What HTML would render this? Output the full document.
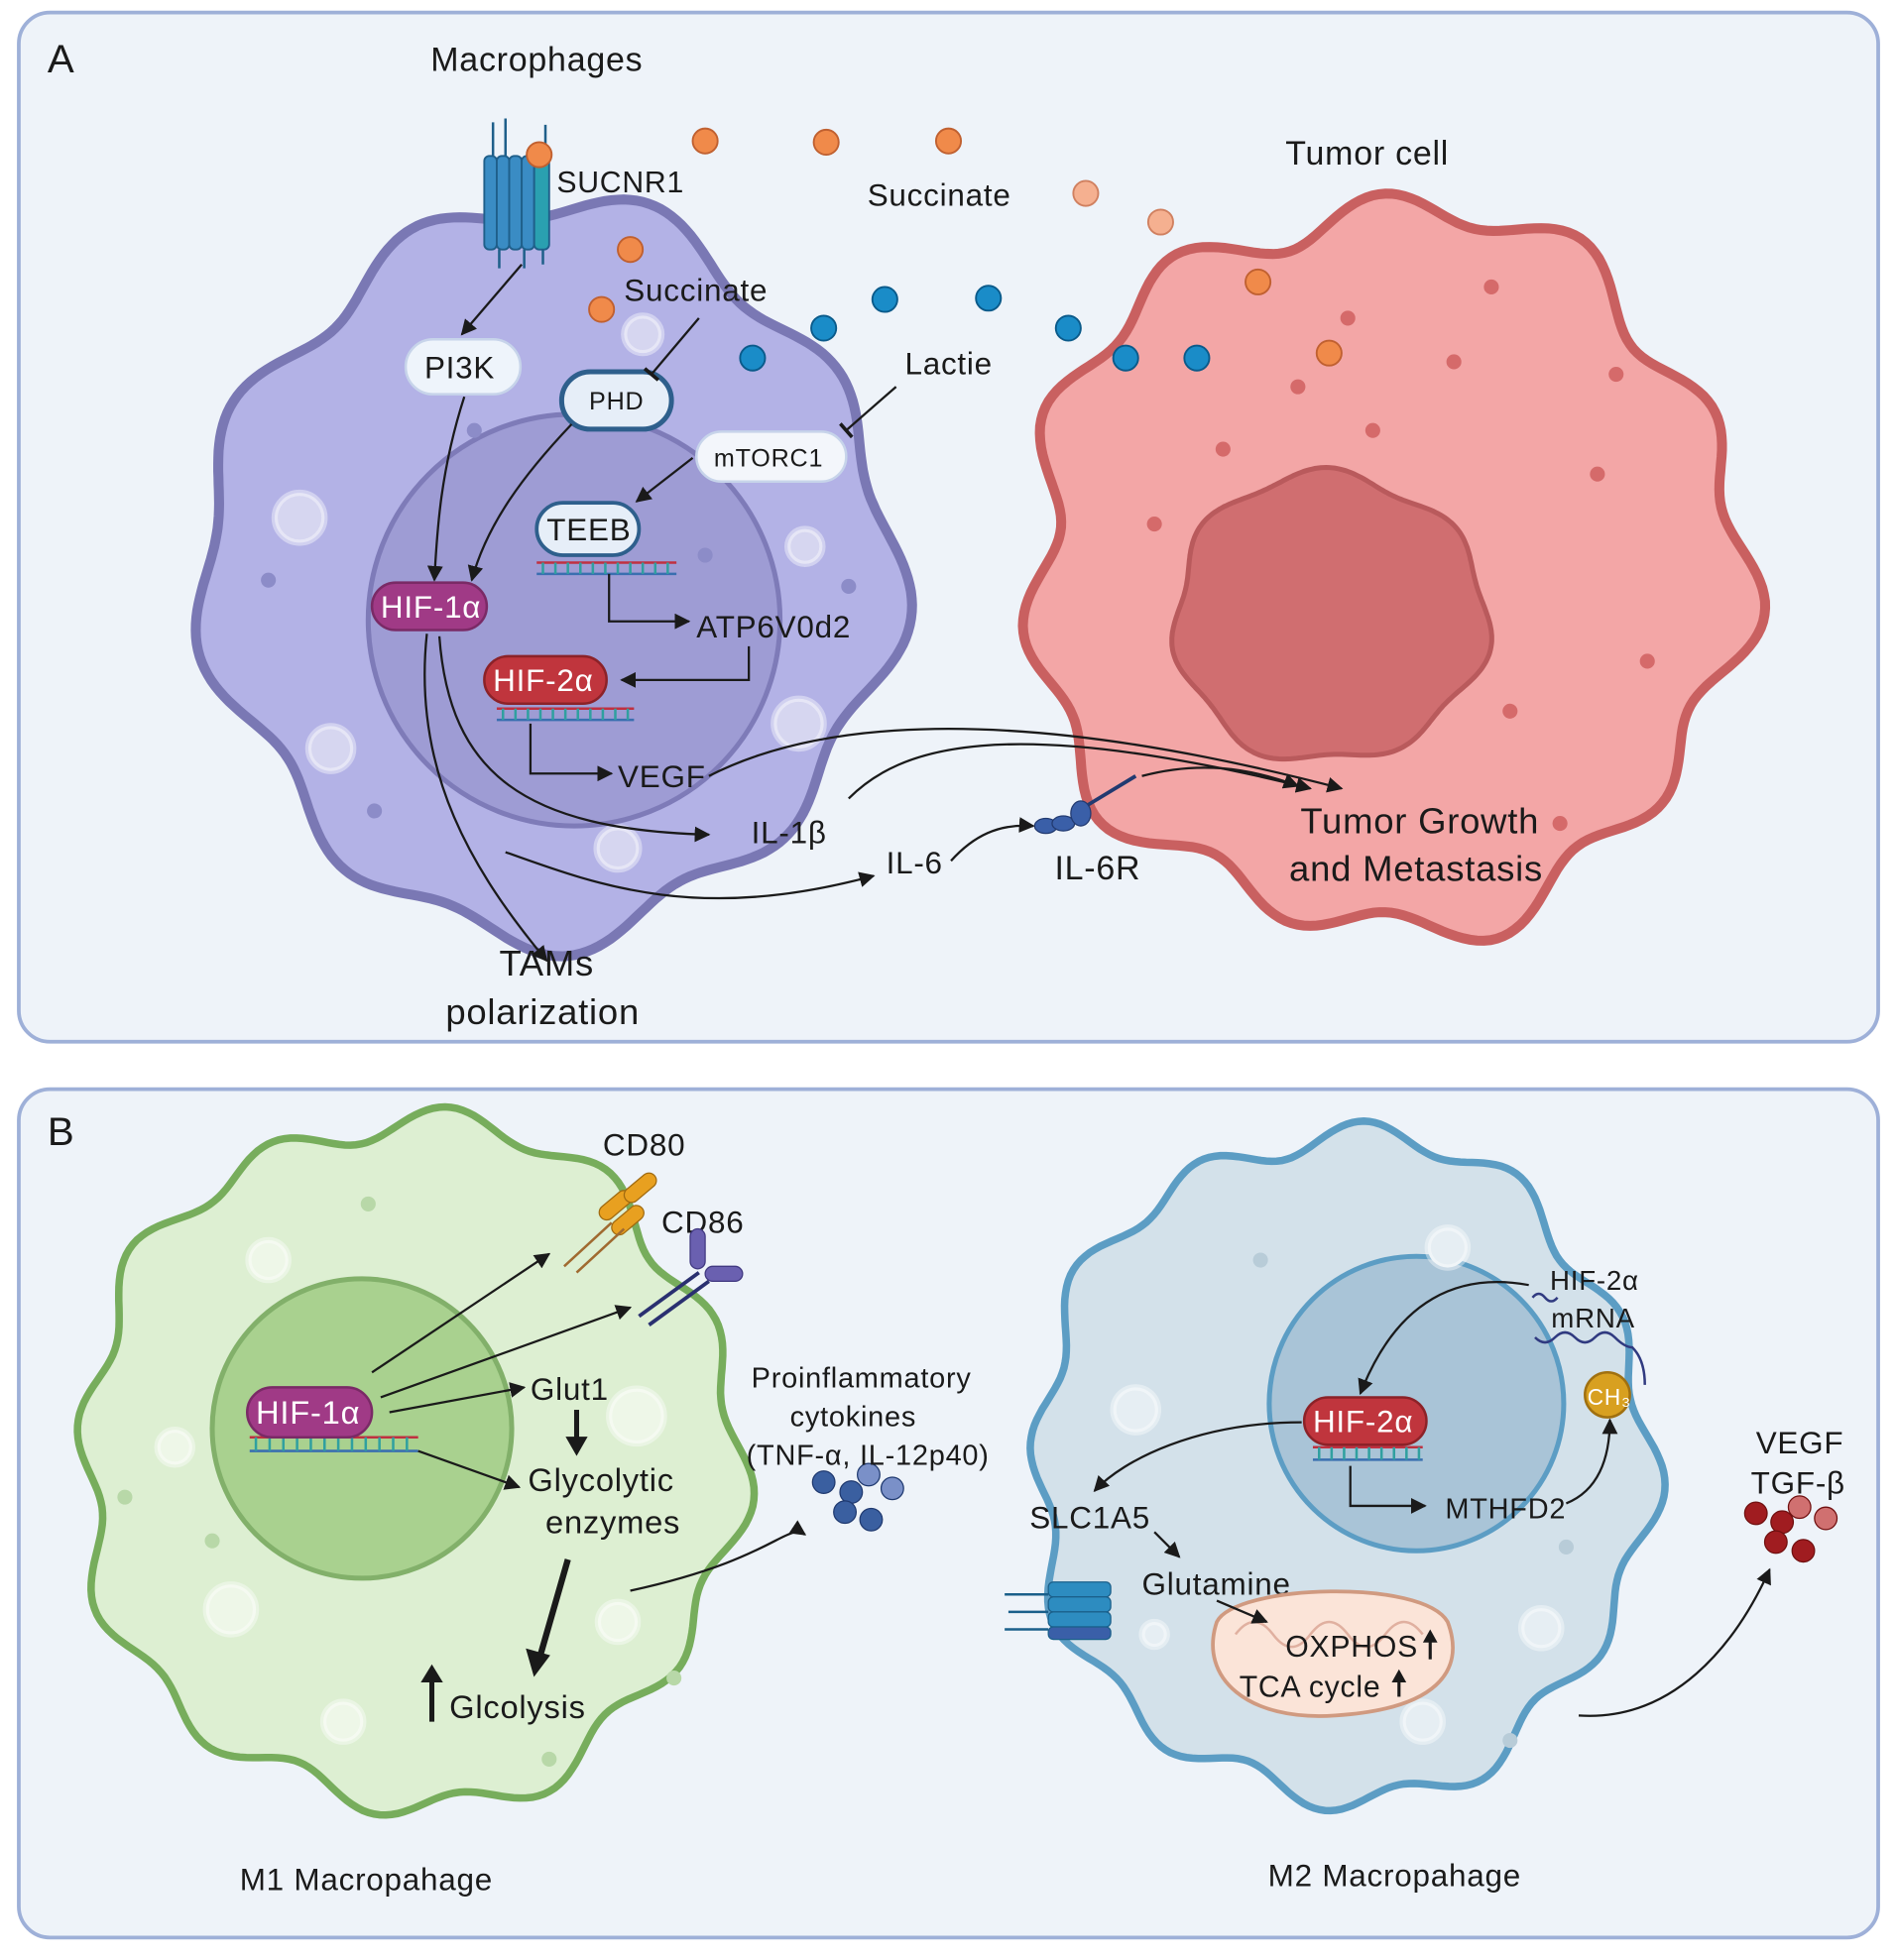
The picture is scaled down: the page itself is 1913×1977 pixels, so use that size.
<!DOCTYPE html>
<html><head><meta charset="utf-8">
<style>
html,body{margin:0;padding:0;background:#fff;}
svg{display:block;}
text{font-family:"Liberation Sans",sans-serif;fill:#1a1a1a;letter-spacing:0.6px;}
</style></head>
<body>
<svg id="s" width="1913" height="1977" viewBox="0 0 1520 1571" xmlns="http://www.w3.org/2000/svg">
<defs>
<marker id="ar" viewBox="0 0 10 10" refX="9" refY="5" markerWidth="7" markerHeight="7" orient="auto-start-reverse"><path d="M0,0 L10,5 L0,10 z" fill="#1a1a1a"/></marker>
<marker id="tb" viewBox="0 0 10 10" refX="5" refY="5" markerWidth="8" markerHeight="8" orient="auto"><path d="M5,0 L5,10" stroke="#1a1a1a" stroke-width="2"/></marker>
</defs>
<rect x="15" y="10" width="1490" height="825" rx="25" fill="#eef3f9" stroke="#9eb0d8" stroke-width="3"/>
<rect x="15" y="873" width="1490" height="680" rx="25" fill="#eef3f9" stroke="#9eb0d8" stroke-width="3"/>
<text x="38" y="58" font-size="32">A</text>
<text x="38" y="918" font-size="32">B</text>
<g id="cells"></g>
<g id="fg">
<text x="345" y="57" font-size="27">Macrophages</text>
<text x="1030" y="132" font-size="27">Tumor cell</text>
<g fill="#3a8cc4" stroke="#1f5f8a" stroke-width="1.5">
<rect x="388" y="125" width="10" height="75" rx="4"/><rect x="398" y="125" width="10" height="75" rx="4"/>
<rect x="408" y="125" width="10" height="75" rx="4"/><rect x="418" y="125" width="10" height="75" rx="4"/>
<rect x="428" y="125" width="12" height="75" rx="4" fill="#2aa0b0"/>
</g>
<path d="M395,125 V98 M405,125 V95 M437,125 V100 M400,200 v15 M420,200 v15 M435,200 v12" stroke="#1f5f8a" stroke-width="2" fill="none"/>
<text x="446" y="154" font-size="24">SUCNR1</text>
<text x="695" y="165" font-size="25">Succinate</text>
<text x="500" y="241" font-size="25">Succinate</text>
<text x="725" y="300" font-size="25">Lactie</text>
<rect x="325" y="272" width="92" height="44" rx="22" fill="#eef4fb" stroke="#c7d4ea" stroke-width="2"/>
<text x="340" y="303" font-size="25">PI3K</text>
<rect x="450" y="298" width="88" height="46" rx="23" fill="#e6eef8" stroke="#2e5f8c" stroke-width="4"/>
<text x="472" y="328" font-size="20">PHD</text>
<rect x="558" y="346" width="120" height="40" rx="20" fill="#f3f6fb" stroke="#c7d4ea" stroke-width="2"/>
<text x="572" y="374" font-size="20">mTORC1</text>
<rect x="430" y="403" width="82" height="42" rx="21" fill="#e6eef8" stroke="#2e5f8c" stroke-width="3"/>
<text x="438" y="433" font-size="25">TEEB</text>
<rect x="298" y="467" width="92" height="38" rx="19" fill="#a03a86" stroke="#7a2a66" stroke-width="2"/>
<text x="305" y="495" font-size="25" style="fill:#fff">HIF-1α</text>
<rect x="388" y="526" width="98" height="38" rx="19" fill="#c0353d" stroke="#8c2228" stroke-width="2"/>
<text x="395" y="554" font-size="25" style="fill:#fff">HIF-2α</text>
<g stroke-width="2">
<path d="M430,451 H542" stroke="#c03040"/><path d="M430,460 H542" stroke="#3a6fb0"/>
<path d="M398,568 H508" stroke="#c03040"/><path d="M398,577 H508" stroke="#3a6fb0"/>
<path d="M200,1152 H335" stroke="#c03040"/><path d="M200,1163 H335" stroke="#3a6fb0"/>
<path d="M1052,1160 H1140" stroke="#c03040"/><path d="M1052,1170 H1140" stroke="#3a6fb0"/>
</g>
<path d="M435,451 V460 M445,451 V460 M455,451 V460 M465,451 V460 M475,451 V460 M485,451 V460 M495,451 V460 M505,451 V460 M515,451 V460 M525,451 V460 M535,451 V460 M403,568 V577 M413,568 V577 M423,568 V577 M433,568 V577 M443,568 V577 M453,568 V577 M463,568 V577 M473,568 V577 M483,568 V577 M493,568 V577 M503,568 V577" stroke="#30a0a0" stroke-width="2"/>
<path d="M205,1152 V1163 M216,1152 V1163 M227,1152 V1163 M238,1152 V1163 M249,1152 V1163 M260,1152 V1163 M271,1152 V1163 M282,1152 V1163 M293,1152 V1163 M304,1152 V1163 M315,1152 V1163 M326,1152 V1163 M1057,1160 V1170 M1067,1160 V1170 M1077,1160 V1170 M1087,1160 V1170 M1097,1160 V1170 M1107,1160 V1170 M1117,1160 V1170 M1127,1160 V1170 M1137,1160 V1170" stroke="#30a0a0" stroke-width="2"/>
<text x="558" y="511" font-size="25">ATP6V0d2</text>
<text x="495" y="631" font-size="25">VEGF</text>
<text x="602" y="676" font-size="25">IL-1β</text>
<text x="710" y="700" font-size="25">IL-6</text>
<text x="845" y="705" font-size="27">IL-6R</text>
<text x="1042" y="668" font-size="29">Tumor Growth</text>
<text x="1033" y="706" font-size="29">and Metastasis</text>
<text x="400" y="782" font-size="29">TAMs</text>
<text x="357" y="821" font-size="29">polarization</text>
<g fill="#3a5fa8" stroke="#223a70" stroke-width="1"><ellipse cx="838" cy="662" rx="9" ry="6"/><ellipse cx="852" cy="660" rx="9" ry="6"/><ellipse cx="866" cy="652" rx="8" ry="10"/></g>
<path d="M872,645 L910,622" stroke="#223a70" stroke-width="3"/>
<g fill="none" stroke="#1a1a1a" stroke-width="1.8">
<path d="M418,212 L370,268" marker-end="url(#ar)"/>
<path d="M560,255 L522,300" marker-end="url(#tb)"/>
<path d="M718,310 L678,345" marker-end="url(#tb)"/>
<path d="M555,367 L510,402" marker-end="url(#ar)"/>
<path d="M372,318 C352,380 350,430 348,465" marker-end="url(#ar)"/>
<path d="M458,340 C420,380 390,420 378,465" marker-end="url(#ar)"/>
<path d="M488,460 V498 H552" marker-end="url(#ar)"/>
<path d="M600,518 V545 H498" marker-end="url(#ar)"/>
<path d="M425,580 V620 H490" marker-end="url(#ar)"/>
<path d="M342,508 C330,620 380,700 438,770" marker-end="url(#ar)"/>
<path d="M352,510 C360,620 420,665 568,669" marker-end="url(#ar)"/>
<path d="M405,683 C480,710 560,740 700,702" marker-end="url(#ar)"/>
<path d="M762,690 C780,670 800,660 828,662" marker-end="url(#ar)"/>
<path d="M568,622 C650,580 800,560 1075,632" marker-end="url(#ar)"/>
<path d="M680,640 C720,600 800,570 1050,632" marker-end="url(#ar)"/>
<path d="M915,622 C960,610 1000,615 1040,630" marker-end="url(#ar)"/>
</g>
<g id="mols"></g>
<text x="483" y="926" font-size="25">CD80</text>
<text x="530" y="988" font-size="25">CD86</text>
<g fill="#e8a020" stroke="#a06a10" stroke-width="1"><rect x="478" y="960" width="30" height="12" rx="6" transform="rotate(-40 493 966)"/><rect x="498" y="946" width="30" height="12" rx="6" transform="rotate(-40 513 952)"/><rect x="488" y="972" width="30" height="12" rx="6" transform="rotate(-40 503 978)"/></g>
<path d="M452,1015 L490,980 M462,1020 L500,985" stroke="#a06a30" stroke-width="2"/>
<g fill="#6a60b0" stroke="#403880" stroke-width="1"><rect x="553" y="985" width="12" height="32" rx="6"/><rect x="565" y="1015" width="30" height="12" rx="6"/></g>
<path d="M512,1055 L560,1020 M520,1062 L568,1027" stroke="#2a3070" stroke-width="3"/>
<rect x="198" y="1112" width="100" height="40" rx="20" fill="#a03a86" stroke="#7a2a66" stroke-width="2"/>
<text x="205" y="1141" font-size="26" style="fill:#fff">HIF-1α</text>
<text x="425" y="1122" font-size="25">Glut1</text>
<text x="423" y="1195" font-size="26">Glycolytic</text>
<text x="437" y="1229" font-size="26">enzymes</text>
<text x="360" y="1377" font-size="26">Glcolysis</text>
<text x="602" y="1112" font-size="23">Proinflammatory</text>
<text x="633" y="1143" font-size="23">cytokines</text>
<text x="598" y="1174" font-size="23">(TNF-α, IL-12p40)</text>
<text x="192" y="1515" font-size="25">M1 Macropahage</text>
<text x="1016" y="1512" font-size="25">M2 Macropahage</text>
<rect x="1045" y="1120" width="98" height="38" rx="19" fill="#c0353d" stroke="#8c2228" stroke-width="2"/>
<text x="1052" y="1148" font-size="25" style="fill:#fff">HIF-2α</text>
<text x="1242" y="1034" font-size="22">HIF-2α</text>
<text x="1243" y="1064" font-size="22">mRNA</text>
<path d="M1228,1040 q5,-6 10,0 t10,0 M1230,1072 q8,8 16,0 t16,0 t16,0 t16,0 t14,8 q10,10 10,30" stroke="#303a80" stroke-width="2" fill="none"/>
<circle cx="1288" cy="1118" r="18" fill="#d8a020" stroke="#a07010" stroke-width="2"/>
<text x="1272" y="1126" font-size="18" style="fill:#fff">CH₃</text>
<text x="1158" y="1217" font-size="23">MTHFD2</text>
<text x="825" y="1225" font-size="25">SLC1A5</text>
<text x="915" y="1278" font-size="25">Glutamine</text>
<text x="1407" y="1165" font-size="25">VEGF</text>
<text x="1403" y="1197" font-size="25">TGF-β</text>
<path d="M975,1300 C990,1270 1140,1265 1160,1300 C1175,1340 1150,1370 1070,1375 C1000,1380 960,1345 975,1300 Z" fill="#fbe4d8" stroke="#d09a80" stroke-width="3"/>
<path d="M990,1310 q15,-20 30,0 q15,20 30,0 q15,-20 30,0 q15,20 30,0 q15,-20 30,0" stroke="#e0b0a0" stroke-width="2" fill="none"/>
<text x="1030" y="1328" font-size="24">OXPHOS</text>
<text x="993" y="1360" font-size="24">TCA cycle</text>
<g fill="#2d8cc0" stroke="#1a5f8a" stroke-width="1"><rect x="840" y="1268" width="50" height="12" rx="4"/><rect x="840" y="1280" width="50" height="12" rx="4"/><rect x="840" y="1292" width="50" height="12" rx="4"/><rect x="840" y="1304" width="50" height="10" rx="4" fill="#3a5fa8"/></g>
<path d="M805,1278 H840 M808,1292 H840 M805,1306 H840" stroke="#1a5f8a" stroke-width="2"/>
<g fill="none" stroke="#1a1a1a" stroke-width="1.8">
<path d="M298,1100 L440,1005" marker-end="url(#ar)"/>
<path d="M305,1120 L505,1048" marker-end="url(#ar)"/>
<path d="M312,1132 L420,1112" marker-end="url(#ar)"/>
<path d="M335,1163 L416,1192" marker-end="url(#ar)"/>
<path d="M505,1275 C620,1250 630,1220 645,1230" marker-end="url(#ar)"/>
<path d="M1225,1030 C1170,1020 1120,1040 1090,1117" marker-end="url(#ar)"/>
<path d="M1043,1140 C960,1140 900,1170 877,1195" marker-end="url(#ar)"/>
<path d="M1082,1175 V1207 H1142" marker-end="url(#ar)"/>
<path d="M1255,1205 C1280,1195 1290,1170 1290,1138" marker-end="url(#ar)"/>
<path d="M925,1228 L945,1248" marker-end="url(#ar)"/>
<path d="M975,1283 L1015,1300" marker-end="url(#ar)"/>
<path d="M1265,1375 C1340,1380 1390,1320 1418,1258" marker-end="url(#ar)"/>
</g>
<g stroke="#1a1a1a" fill="#1a1a1a">
<path d="M462,1130 L462,1155" stroke-width="4"/><path d="M454,1152 L470,1152 L462,1166 Z"/>
<path d="M455,1250 L432,1330" stroke-width="5"/><path d="M422,1322 L440,1327 L428,1343 Z"/>
<path d="M346,1380 V1345" stroke-width="4"/><path d="M338,1348 L354,1348 L346,1335 Z"/>
<path d="M1146,1330 V1313" stroke-width="2.5"/><path d="M1141,1316 L1151,1316 L1146,1307 Z"/>
<path d="M1121,1360 V1345" stroke-width="2.5"/><path d="M1116,1348 L1126,1348 L1121,1339 Z"/>
</g>
</g>
<script>
var NS="http://www.w3.org/2000/svg";
function blob(cx,cy,rx,ry,amp,k,ph,amp2,k2){var d="";for(var i=0;i<=360;i++){var t=i*Math.PI/180;var r=1+amp*Math.sin(k*t+ph)+amp2*Math.sin(k2*t+1.3);var x=cx+rx*r*Math.cos(t),y=cy+ry*r*Math.sin(t);d+=(i?"L":"M")+x.toFixed(1)+","+y.toFixed(1);}return d+"Z";}
function el(g,tag,a){var e=document.createElementNS(NS,tag);for(var k in a)e.setAttribute(k,a[k]);g.appendChild(e);return e;}
var c=document.getElementById("cells");
el(c,"path",{d:blob(440,458,272,288,0.045,9,0.5,0.03,4),fill:"#b3b2e6",stroke:"#7a78b4","stroke-width":8});
el(c,"circle",{cx:460,cy:497,r:165,fill:"#9e9cd4",stroke:"#7e7bb8","stroke-width":4});
el(c,"path",{d:blob(1110,455,284,288,0.05,11,0.2,0.03,5),fill:"#f3a6a6",stroke:"#c96060","stroke-width":8});
el(c,"path",{d:blob(1065,495,125,115,0.04,7,0,0.02,3),fill:"#d06e70",stroke:"#b95a5c","stroke-width":4});
el(c,"path",{d:blob(328,1172,262,274,0.04,12,0.3,0.02,5),fill:"#ddefd2",stroke:"#77ad5c","stroke-width":6});
el(c,"circle",{cx:290,cy:1145,r:120,fill:"#a9d18f",stroke:"#82b06a","stroke-width":4});
el(c,"path",{d:blob(1075,1175,245,266,0.04,12,0.8,0.02,5),fill:"#d3e1ea",stroke:"#5c9dc4","stroke-width":6});
el(c,"circle",{cx:1135,cy:1125,r:118,fill:"#a9c4d7",stroke:"#5c9dc4","stroke-width":4});
var ves=[[240,415,20,"#d6d6f0"],[265,600,18,"#d6d6f0"],[640,580,20,"#d6d6f0"],[495,680,17,"#d6d6f0"],[515,268,15,"#d6d6f0"],[645,438,14,"#d6d6f0"],[215,1010,16,"#eef7e8"],[185,1290,20,"#eef7e8"],[275,1380,16,"#eef7e8"],[495,1300,16,"#eef7e8"],[510,1135,22,"#eef7e8"],[140,1160,14,"#eef7e8"],[910,1130,18,"#e6eef3"],[1160,1000,16,"#e6eef3"],[1235,1305,16,"#e6eef3"],[1140,1380,16,"#e6eef3"],[925,1310,10,"#e6eef3"]];
ves.forEach(function(v){el(c,"circle",{cx:v[0],cy:v[1],r:v[2],fill:v[3],stroke:"rgba(255,255,255,0.4)","stroke-width":5});});
var dots=[[215,465,"#8c8cc8"],[380,345,"#8c8cc8"],[565,445,"#8c8cc8"],[300,650,"#8c8cc8"],[680,470,"#8c8cc8"],[1100,345,"#d56a6a"],[1165,290,"#d56a6a"],[980,360,"#d56a6a"],[1280,380,"#d56a6a"],[1320,530,"#d56a6a"],[1210,570,"#d56a6a"],[1040,310,"#d56a6a"],[925,420,"#d56a6a"],[1250,660,"#d56a6a"],[1295,300,"#d56a6a"],[1080,255,"#d56a6a"],[1195,230,"#d56a6a"],[295,965,"#b8d8a8"],[170,1235,"#b8d8a8"],[540,1345,"#b8d8a8"],[440,1410,"#b8d8a8"],[100,1200,"#b8d8a8"],[1010,1010,"#b8ccd8"],[1210,1395,"#b8ccd8"],[1255,1240,"#b8ccd8"]];
dots.forEach(function(v){el(c,"circle",{cx:v[0],cy:v[1],r:6,fill:v[2]});});
var m=document.getElementById("mols");
[[432,124],[565,113],[662,114],[760,113],[505,200],[482,248],[1008,226],[1065,283]].forEach(function(p){el(m,"circle",{cx:p[0],cy:p[1],r:10,fill:"#f08a4a",stroke:"#c06030","stroke-width":1.5});});
[[870,155],[930,178]].forEach(function(p){el(m,"circle",{cx:p[0],cy:p[1],r:10,fill:"#f5b090",stroke:"#d08060","stroke-width":1.5});});
[[603,287],[660,263],[709,240],[792,239],[856,263],[902,287],[959,287]].forEach(function(p){el(m,"circle",{cx:p[0],cy:p[1],r:10,fill:"#1a8cc8",stroke:"#0a5a8a","stroke-width":1.5});});
[[660,1188,"#3a5fa0"],[682,1196,"#3a5fa0"],[696,1182,"#7a90c8"],[715,1193,"#7a90c8"],[677,1212,"#3a5fa0"],[698,1218,"#3a5fa0"]].forEach(function(p){el(m,"circle",{cx:p[0],cy:p[1],r:9,fill:p[2],stroke:"#203a70","stroke-width":1});});
[[1407,1213,"#a01c20"],[1428,1220,"#a01c20"],[1442,1208,"#d07070"],[1463,1217,"#d07070"],[1423,1236,"#a01c20"],[1445,1243,"#a01c20"]].forEach(function(p){el(m,"circle",{cx:p[0],cy:p[1],r:9,fill:p[2],stroke:"#701010","stroke-width":1});});
</script>
</svg>
</body></html>
